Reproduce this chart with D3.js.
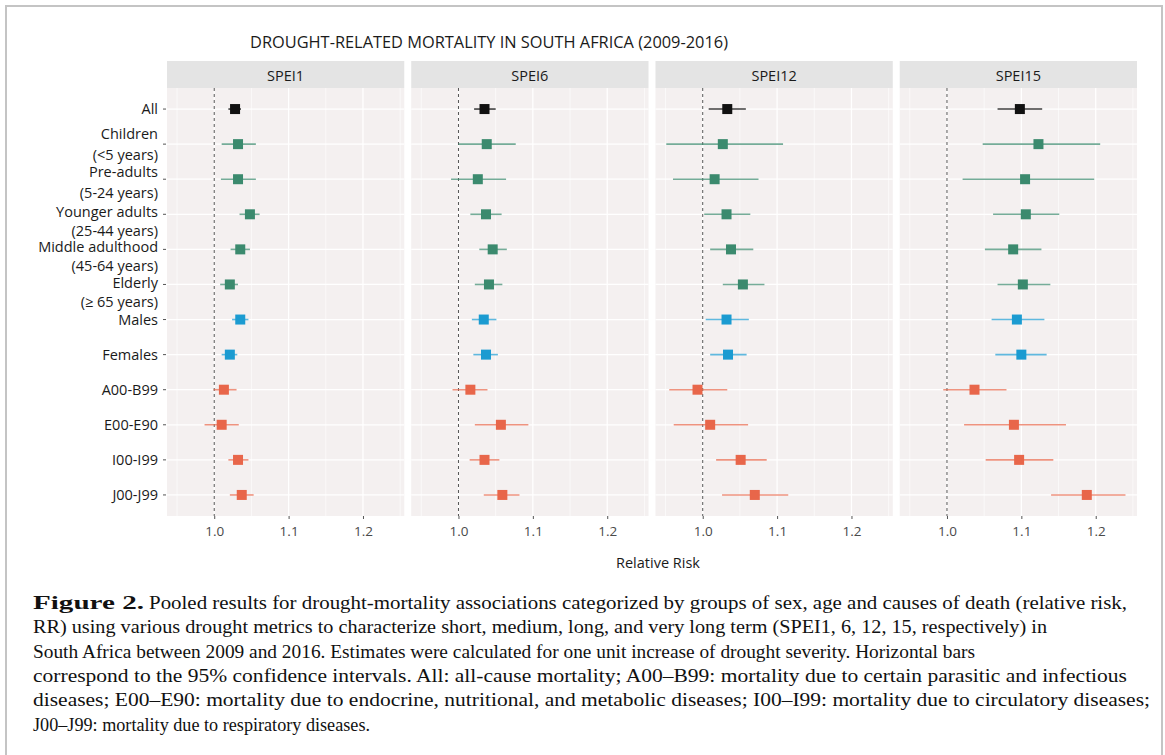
<!DOCTYPE html>
<html>
<head>
<meta charset="utf-8">
<script src="https://cdn.jsdelivr.net/npm/d3@7"></script>
<style>
  body { margin: 0; background: #fff; }
</style>
</head>
<body>
<div class="canva"></div>
<script>
// rows, top to bottom
const categories = ["All", "Children", "Pre-adults", "Younger adults", "Middle adulthood", "Elderly",
  "Males", "Females", "A00-B99", "E00-E90", "I00-I99", "J00-J99"];
const labelLines = [["All"], ["Children", "(<5 years)"], ["Pre-adults", "(5-24 years)"],
  ["Younger adults", "(25-44 years)"], ["Middle adulthood", "(45-64 years)"], ["Elderly", "(\u2265 65 years)"],
  ["Males"], ["Females"], ["A00-B99"], ["E00-E90"], ["I00-I99"], ["J00-J99"]];
const groups = ["all", "age", "age", "age", "age", "age", "sex", "sex", "cause", "cause", "cause", "cause"];
const panels = ["SPEI1", "SPEI6", "SPEI12", "SPEI15"];
const xTicks = [1.0, 1.1, 1.2];

// relative risk and 95% CI
const spei1Est = [1.028, 1.032, 1.032, 1.048, 1.035, 1.021, 1.035, 1.021, 1.013, 1.010, 1.032, 1.037];
const spei1Lo  = [1.019, 1.010, 1.009, 1.034, 1.022, 1.008, 1.024, 1.010, 0.999, 0.987, 1.019, 1.021];
const spei1Hi  = [1.036, 1.056, 1.056, 1.061, 1.048, 1.032, 1.046, 1.031, 1.030, 1.033, 1.046, 1.053];

const spei6Est = [1.035, 1.038, 1.026, 1.037, 1.046, 1.041, 1.034, 1.037, 1.016, 1.057, 1.035, 1.059];
const spei6Lo  = [1.021, 1.000, 0.990, 1.016, 1.028, 1.022, 1.018, 1.020, 0.992, 1.022, 1.015, 1.034];
const spei6Hi  = [1.050, 1.077, 1.064, 1.058, 1.065, 1.059, 1.051, 1.053, 1.039, 1.094, 1.055, 1.082];

const spei12Est = [1.033, 1.027, 1.016, 1.032, 1.038, 1.054, 1.032, 1.034, 0.993, 1.010, 1.051, 1.070];
const spei12Lo  = [1.008, 0.951, 0.960, 1.002, 1.010, 1.027, 1.004, 1.010, 0.955, 0.961, 1.018, 1.026];
const spei12Hi  = [1.058, 1.108, 1.075, 1.064, 1.068, 1.083, 1.062, 1.059, 1.033, 1.061, 1.086, 1.115];

const spei15Est = [1.098, 1.123, 1.105, 1.106, 1.089, 1.102, 1.094, 1.100, 1.037, 1.090, 1.097, 1.188];
const spei15Lo  = [1.068, 1.048, 1.021, 1.062, 1.051, 1.068, 1.060, 1.065, 0.995, 1.023, 1.052, 1.140];
const spei15Hi  = [1.128, 1.206, 1.198, 1.151, 1.127, 1.139, 1.131, 1.134, 1.080, 1.160, 1.143, 1.240];

const estimates = [spei1Est, spei6Est, spei12Est, spei15Est];
const lowers = [spei1Lo, spei6Lo, spei12Lo, spei15Lo];
const uppers = [spei1Hi, spei6Hi, spei12Hi, spei15Hi];

const title = "DROUGHT-RELATED MORTALITY IN SOUTH AFRICA (2009-2016)";
const captionLines = [
  "Pooled results for drought-mortality associations categorized by groups of sex, age and causes of death (relative risk,",
  "RR) using various drought metrics to characterize short, medium, long, and very long term (SPEI1, 6, 12, 15, respectively) in",
  "South Africa between 2009 and 2016. Estimates were calculated for one unit increase of drought severity. Horizontal bars",
  "correspond to the 95% confidence intervals. All: all-cause mortality; A00\u2013B99: mortality due to certain parasitic and infectious",
  "diseases; E00\u2013E90: mortality due to endocrine, nutritional, and metabolic diseases; I00\u2013I99: mortality due to circulatory diseases;",
  "J00\u2013J99: mortality due to respiratory diseases."
];

const sans = "\"Open Sans\", \"Noto Sans\", sans-serif";
const serif = "\"Liberation Serif\", \"DejaVu Serif\", serif";

const W = 1165, H = 755;
const svg = d3.select(".canva").append("svg")
  .attr("width", W)
  .attr("height", H)
  .style("font-family", sans);

// figure frame
svg.append("rect")
  .attr("x", 6).attr("y", 6)
  .attr("width", 1156).attr("height", 800)
  .attr("fill", "none")
  .attr("stroke", "#c4c4c4")
  .attr("stroke-width", 2);

var color = d3.scaleOrdinal()
  .domain(["all", "age", "sex", "cause"])
  .range(["#111111", "#3b8a6e", "#1b9bd1", "#e8664a"]);

const left = 167, right = 1137, gap = 7;
const stripTop = 61, stripH = 27, plotTop = 88, plotBottom = 516;
const pw = (right - left - gap * 3) / 4;

const y = d3.scalePoint()
  .domain(categories)
  .range([plotTop, plotBottom])
  .padding(0.6);

const xDomain = [0.9365, 1.2555];

svg.append("text")
  .attr("x", 250).attr("y", 48)
  .attr("font-size", 15.5)
  .attr("fill", "#1a1a1a")
  .attr("textLength", 478)
  .attr("lengthAdjust", "spacingAndGlyphs")
  .text(title);

panels.forEach((p, pi) => {
  const x0 = left + pi * (pw + gap);
  const x = d3.scaleLinear().domain(xDomain).range([x0, x0 + pw]);
  const g = svg.append("g");

  // strip
  g.append("rect")
    .attr("x", x0).attr("y", stripTop)
    .attr("width", pw).attr("height", stripH)
    .attr("fill", "#e4e4e4");
  g.append("text")
    .attr("x", x0 + pw / 2).attr("y", stripTop + 19.5)
    .attr("text-anchor", "middle")
    .attr("font-size", 14.5)
    .attr("fill", "#1a1a1a")
    .text(p);

  // panel background and grid
  g.append("rect")
    .attr("x", x0).attr("y", plotTop)
    .attr("width", pw).attr("height", plotBottom - plotTop)
    .attr("fill", "#f4f0f0");

  g.selectAll(".minor")
    .data([0.95, 1.05, 1.15, 1.25])
    .enter().append("line")
    .attr("x1", d => x(d)).attr("x2", d => x(d))
    .attr("y1", plotTop).attr("y2", plotBottom)
    .attr("stroke", "#fff").attr("stroke-width", 0.6);

  g.selectAll(".major")
    .data(xTicks)
    .enter().append("line")
    .attr("x1", d => x(d)).attr("x2", d => x(d))
    .attr("y1", plotTop).attr("y2", plotBottom)
    .attr("stroke", "#fff").attr("stroke-width", 1.3);

  g.selectAll(".hgrid")
    .data(categories)
    .enter().append("line")
    .attr("x1", x0).attr("x2", x0 + pw)
    .attr("y1", d => y(d)).attr("y2", d => y(d))
    .attr("stroke", "#fff").attr("stroke-width", 1.3);

  // reference line at RR = 1
  g.append("line")
    .attr("x1", x(1)).attr("x2", x(1))
    .attr("y1", plotTop).attr("y2", plotBottom)
    .attr("stroke", "#555").attr("stroke-width", 1)
    .attr("stroke-dasharray", "3,3");

  // x axis
  const ax = g.append("g")
    .attr("transform", "translate(0," + plotBottom + ")")
    .call(d3.axisBottom(x).tickValues(xTicks).tickSize(3).tickPadding(7).tickFormat(d3.format(".1f")));
  ax.select(".domain").remove();
  ax.selectAll("line").attr("stroke", "#555");
  ax.selectAll("text").attr("font-size", 13.5).attr("fill", "#4a4a4a")
    .style("font-family", sans);

  // error bars and points
  categories.forEach((c, i) => {
    g.append("line")
      .attr("x1", x(lowers[pi][i])).attr("x2", x(uppers[pi][i]))
      .attr("y1", y(c)).attr("y2", y(c))
      .attr("stroke", color(groups[i]))
      .attr("stroke-opacity", groups[i] === "all" ? 0.8 : 0.7)
      .attr("stroke-width", 1.6);
    g.append("rect")
      .attr("x", x(estimates[pi][i]) - 5).attr("y", y(c) - 5)
      .attr("width", 10).attr("height", 10)
      .attr("fill", color(groups[i]));
  });
});

// y axis labels
const lineShift = {"Children": [-10, 11], "Pre-adults": [-7, 14]};
categories.forEach((c, i) => {
  svg.append("line")
    .attr("x1", left - 4).attr("x2", left - 1)
    .attr("y1", y(c)).attr("y2", y(c))
    .attr("stroke", "#555");
  const lines = labelLines[i];
  const shifts = lines.length === 1 ? [0] : (lineShift[c] || [-2, 17]);
  lines.forEach((t, k) => {
    svg.append("text")
      .attr("x", left - 9).attr("y", y(c) + shifts[k])
      .attr("dy", "0.35em")
      .attr("text-anchor", "end")
      .attr("font-size", 14.5)
      .attr("fill", "#1a1a1a")
      .text(t);
  });
});

svg.append("text")
  .attr("x", 658).attr("y", 568)
  .attr("text-anchor", "middle")
  .attr("font-size", 14.5)
  .attr("fill", "#1a1a1a")
  .text("Relative Risk");

// caption
const capWidths = [978, 1014, 942, 1094, 1117, 337];
const capY = 609, capStep = 24.3;
svg.append("text")
  .attr("x", 33).attr("y", capY)
  .style("font-family", serif)
  .attr("font-weight", "bold")
  .attr("font-size", 18)
  .attr("textLength", 111)
  .attr("lengthAdjust", "spacingAndGlyphs")
  .attr("fill", "#111")
  .text("Figure 2.");
captionLines.forEach((t, i) => {
  svg.append("text")
    .attr("x", i === 0 ? 149 : 33).attr("y", capY + i * capStep)
    .style("font-family", serif)
    .attr("font-size", 18)
    .attr("textLength", capWidths[i])
    .attr("lengthAdjust", "spacingAndGlyphs")
    .attr("fill", "#111")
    .text(t);
});
</script>
</body>
</html>
